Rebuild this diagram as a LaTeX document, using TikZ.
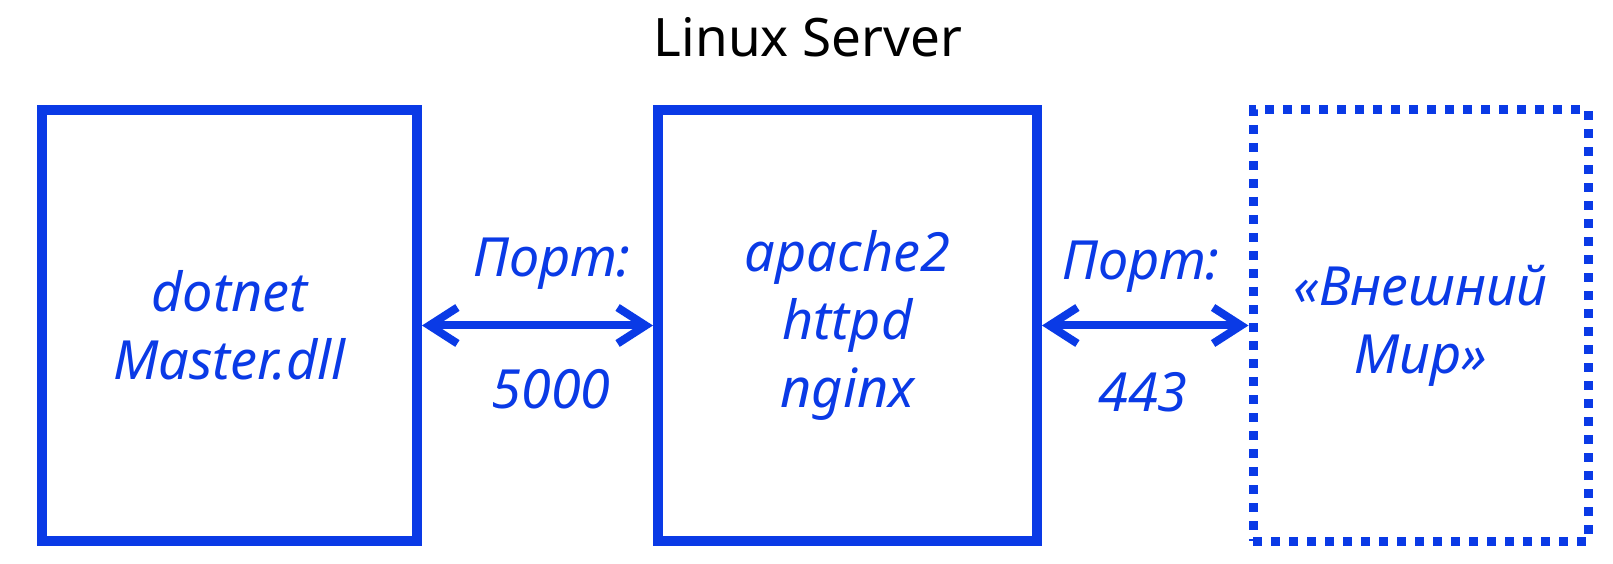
\documentclass[tikz,border=0pt]{standalone}
\usepackage{fontspec}
\setmainfont{Noto Sans}
\usepackage{tikz}
\usetikzlibrary{shapes,arrows.meta,positioning,calc}
\definecolor{netblue}{RGB}{10,58,230}

\begin{document}
\begin{tikzpicture}[x=0.5pt,y=0.5pt,>={Straight Barb[length=14pt,width=18pt]}]
%\draw[gray,very thin] (0,0) grid (1613,563);
\useasboundingbox (0,0) rectangle (1613,563);
\tikzstyle{block} = [draw=netblue, shape=rectangle, minimum height=215.5pt, line width=5pt, text=netblue, align=center, font=\fontsize{27}{34}\selectfont\itshape]
\tikzstyle{outside} = [block, line width=4.5pt, dash pattern=on 4.5pt off 4.5pt]
\tikzstyle{port} = [text=netblue, anchor=base, font=\fontsize{27}{34}\selectfont\itshape]
%Creating Blocks and Labels
\node at (808,506) [anchor=base, font=\fontsize{26.5}{30}\selectfont] (title) {Linux Server};
\node at (229.5,237.5) [block, minimum width=187.5pt] (app) {dotnet\\Master.dll};
\node at (847.5,237.5) [block, minimum width=189.5pt] (web) {apache2\\httpd\\nginx};
\node at (1420.5,237.5) [outside, minimum width=167.5pt] (world) {«Внешний\\Мир»};
\node at (552,286) [port] (p1) {Порт:};
\node at (551,155) [port] (n1) {5000};
\node at (1141,283) [port] (p2) {Порт:};
\node at (1143,151) [port] (n2) {443};
\begin{scope}[line width = 4pt, netblue]
\draw[<->] (app.east) -- (web.west);
\draw[<->] (web.east) -- (world.west);
\end{scope}

\end{tikzpicture}
\end{document}
